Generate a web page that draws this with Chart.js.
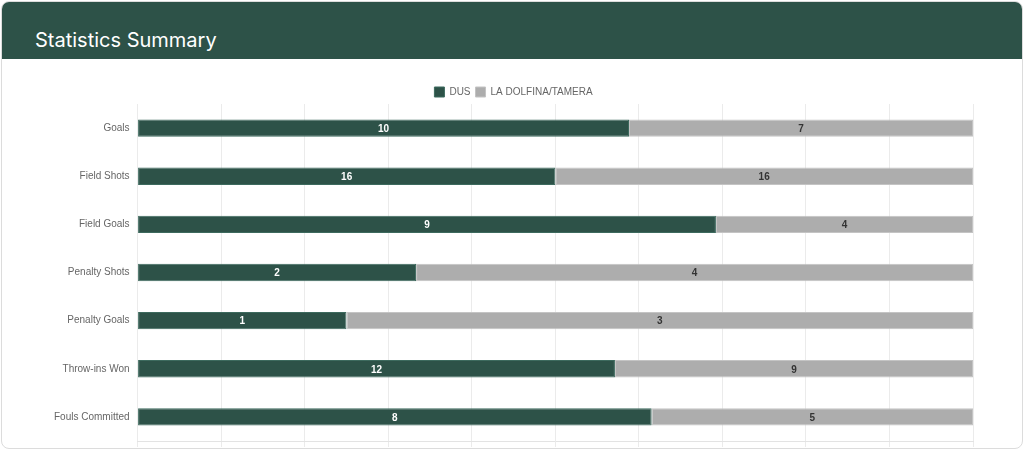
<!DOCTYPE html>
<html>
<head>
<meta charset="utf-8">
<script src="https://cdn.jsdelivr.net/npm/chart.js@4"></script>
<style>
  html, body { margin: 0; padding: 0; background: #fff; }
  .card {
    position: absolute; left: 1px; top: 1px; width: 1020px; height: 446px;
    border: 1px solid #dcdcdc; border-radius: 8px; overflow: hidden; background: #fff;
  }
  .card-header {
    height: 57px; background: #2d5248; color: #fff;
    font-family: Inter, "Noto Sans", sans-serif; font-size: 20px;
    line-height: 24px; padding-left: 33px; padding-top: 26px; box-sizing: border-box;
  }
  .chart-wrap { position: absolute; left: 52px; top: 80px; width: 930px; height: 365px; }
</style>
</head>
<body>
<div class="card">
  <div class="card-header">Statistics Summary</div>
  <div class="chart-wrap"><canvas id="statsChart"></canvas></div>
</div>
<script>
// stats per category
const categories = ['Goals', 'Field Shots', 'Field Goals', 'Penalty Shots', 'Penalty Goals', 'Throw-ins Won', 'Fouls Committed'];
const dusValues = [10, 16, 9, 2, 1, 12, 8];
const tameraValues = [7, 16, 4, 4, 3, 9, 5];

// bars are shown as share of the total per row
const dusPct = dusValues.map((v, i) => v / (v + tameraValues[i]) * 100);
const tameraPct = tameraValues.map((v, i) => v / (dusValues[i] + v) * 100);

const rawCounts = [dusValues, tameraValues];
const labelColors = ['#ffffff', '#333333'];

const barLabels = {
    id: 'barLabels',
    afterDatasetsDraw(chart) {
        const ctx = chart.ctx;
        ctx.save();
        ctx.font = 'bold 10px Arial, "Liberation Sans", sans-serif';
        ctx.textAlign = 'center';
        ctx.textBaseline = 'middle';
        chart.data.datasets.forEach((ds, di) => {
            const meta = chart.getDatasetMeta(di);
            meta.data.forEach((bar, i) => {
                ctx.fillStyle = labelColors[di];
                ctx.fillText(rawCounts[di][i], (bar.x + bar.base) / 2, bar.y + 1);
            });
        });
        ctx.restore();
    }
};

// pull the plot a little closer to the legend
const legendGap = {
    id: 'legendGap',
    beforeInit(chart) {
        const fit = chart.legend.fit;
        chart.legend.fit = function () {
            fit.call(this);
            this.height -= 3;
        };
    }
};

const ctx = document.getElementById('statsChart').getContext('2d');

new Chart(ctx, {
    type: 'bar',
    data: {
        labels: categories,
        datasets: [{
            label: 'DUS',
            data: dusPct,
            backgroundColor: '#2d5248',
            borderColor: '#3d6a5e',
            borderWidth: 1,
            borderSkipped: false
        }, {
            label: 'LA DOLFINA/TAMERA',
            data: tameraPct,
            backgroundColor: '#adadad',
            borderColor: '#c4c4c4',
            borderWidth: 1,
            borderSkipped: false
        }]
    },
    options: {
        indexAxis: 'y',
        responsive: true,
        maintainAspectRatio: false,
        animation: false,
        barPercentage: 0.4,
        categoryPercentage: 0.9,
        layout: { padding: { right: 11 } },
        scales: {
            x: {
                stacked: true,
                min: 0,
                max: 100,
                ticks: { display: false, stepSize: 10 },
                grid: { color: '#ebebeb', tickLength: 6 },
                border: { color: '#e3e3e3' }
            },
            y: {
                stacked: true,
                grid: { display: false },
                border: { display: false },
                ticks: {
                    color: '#666',
                    font: { family: 'Arial, "Liberation Sans", sans-serif', size: 10 },
                    padding: 0
                }
            }
        },
        plugins: {
            legend: {
                display: true,
                labels: {
                    boxWidth: 10,
                    boxHeight: 10,
                    padding: 5,
                    color: '#666',
                    font: { family: 'Arial, "Liberation Sans", sans-serif', size: 10 }
                }
            },
            tooltip: { enabled: false }
        }
    },
    plugins: [barLabels, legendGap]
});
</script>
</body>
</html>
